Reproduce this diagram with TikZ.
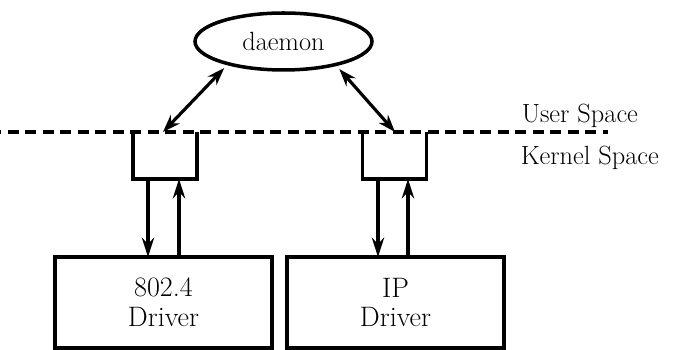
\documentclass[tikz,border=0pt]{standalone}
\usepackage{tikz}
\usepackage{amsmath}
\usetikzlibrary{positioning,calc,shapes.geometric,arrows.meta}

\begin{document}
\begin{tikzpicture}[x=0.02cm, y=-0.02cm, line width=2pt,
        lbl/.style={font=\fontsize{15}{18}\selectfont, inner sep=0pt},
        drv/.style={draw, minimum width=4.34cm, minimum height=1.82cm, outer sep=0pt,
            align=center, font=\fontsize{16}{17}\selectfont},
        pipe/.style={minimum width=1.28cm, minimum height=0.94cm, inner sep=0pt, outer sep=0pt},
        arr/.style={line width=1.8pt, -{Stealth[length=11pt,width=7pt]}},
        dbl/.style={line width=1.8pt, {Stealth[length=10pt,width=7pt]}-{Stealth[length=10pt,width=7pt]}}]
        \useasboundingbox (0,0) rectangle (676,350);

        \node[draw, ellipse, minimum width=3.54cm, minimum height=1.14cm, outer sep=0pt, lbl]
            (daemon) at (283.5,41.5) {daemon};

        % user / kernel boundary
        \coordinate (dl) at (0,132);
        \coordinate (dr) at (608,132);
        \draw[dash pattern=on 0.22cm off 0.13cm, dash phase=-0.16cm] (dl) -- (dr);
        \node[lbl, anchor=base west] (user)   at (520,123) {User Space};
        \node[lbl, anchor=base west] (kernel) at (519,165) {Kernel Space};

        \node[pipe] (qa) at (165,155.5) {};
        \node[pipe] (qb) at (394.5,155.5) {};
        \draw (qa.north west) |- (qa.south east) -- (qa.north east);
        \draw (qb.north west) |- (qb.south east) -- (qb.north east);

        \node[drv] (drv4)  at (163.5,302.5) {802.4\\Driver};
        \node[drv] (drvip) at (395.5,302.5) {IP\\Driver};

        \coordinate (ta) at (163,132);
        \coordinate (tb) at (395,132);
        \draw[dbl, shorten <=0.12cm] (daemon.202) -- (ta);
        \draw[dbl, shorten <=0.12cm] (daemon.336) -- (tb);

        \draw[arr] (qa.south) ++(-17,0) coordinate (d1) -- (d1 |- drv4.north);
        \draw[arr] (drv4.north) ++(15.5,0) coordinate (u1) -- (u1 |- qa.south);
        \draw[arr] (qb.south) ++(-16.5,0) coordinate (d2) -- (d2 |- drvip.north);
        \draw[arr] (drvip.north) ++(12.5,0) coordinate (u2) -- (u2 |- qb.south);
    \end{tikzpicture}
\end{document}
